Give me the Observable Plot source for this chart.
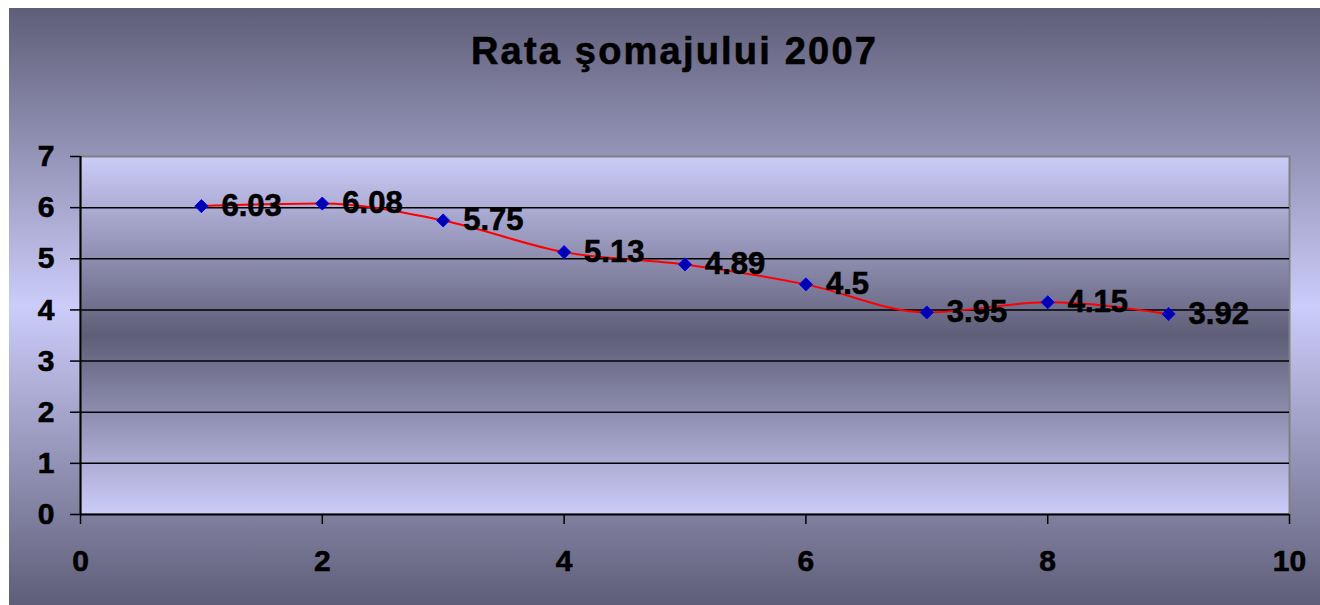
<!DOCTYPE html>
<html>
<head>
<meta charset="utf-8">
<script src="https://cdn.jsdelivr.net/npm/d3@7"></script>
<script src="https://cdn.jsdelivr.net/npm/@observablehq/plot@0.6"></script>
<style>
  html, body { margin: 0; padding: 0; background: #ffffff; }
  #wrap {
    position: absolute; left: 9px; top: 8px; width: 1311px; height: 597px;
    background: linear-gradient(to bottom, #5f5e78 0%, #ccccfa 50%, #5f5e78 100%);
    overflow: hidden;
  }
  #title {
    position: absolute; left: 0; top: 24px; width: 100%;
    text-align: center; font-family: "Liberation Sans", Arial, sans-serif;
    font-weight: bold; font-size: 38px; line-height: 38px; color: #000;
    letter-spacing: 2.2px;
    -webkit-text-stroke: 0.6px #000;
    transform: translateX(10px);
    white-space: nowrap;
  }
  #chart { position: absolute; left: 0; top: 100px; }
  #chart svg text { stroke: #000; stroke-width: 0.6px; }
</style>
</head>
<body>
<div id="wrap">
  <div id="title"></div>
  <div id="chart"></div>
</div>
<script>
const titleText = "Rata şomajului 2007";
const months = [1, 2, 3, 4, 5, 6, 7, 8, 9];
const rates = [6.03, 6.08, 5.75, 5.13, 4.89, 4.5, 3.95, 4.15, 3.92];
const xTicks = [0, 2, 4, 6, 8, 10];
const yTicks = [0, 1, 2, 3, 4, 5, 6, 7];

const data = months.map((m, i) => ({x: m, y: rates[i]}));

document.getElementById("title").textContent = titleText;

const svg = Plot.plot({
  width: 1311,
  height: 497,
  marginTop: 48,
  marginBottom: 91,
  marginLeft: 71,
  marginRight: 31,
  style: {
    background: "transparent",
    fontFamily: "'Liberation Sans', Arial, sans-serif",
    fontWeight: "bold",
    fontSize: "30px",
    color: "black",
    overflow: "visible"
  },
  x: {domain: [0, 10], ticks: xTicks},
  y: {domain: [0, 7], ticks: yTicks},
  marks: [
    Plot.frame({fill: "url(#plotGrad)", stroke: "#808080", strokeWidth: 2}),
    Plot.ruleY(yTicks.filter(t => t > 0 && t < 7), {stroke: "black", strokeWidth: 1.5}),
    Plot.axisY({ticks: yTicks, tickFormat: d => String(d), tickSize: 10, tickPadding: 16, label: null, fontSize: 30, strokeWidth: 1.5}),
    Plot.axisX({ticks: xTicks, tickFormat: d => String(d), tickSize: 10, tickPadding: 25, label: null, fontSize: 30, strokeWidth: 1.5}),
    Plot.ruleY([0], {stroke: "black", strokeWidth: 2}),
    Plot.ruleX([0], {stroke: "black", strokeWidth: 2}),
    Plot.line(data, {x: "x", y: "y", stroke: "#ff0000", strokeWidth: 2, curve: "monotone-x"}),
    Plot.dot(data, {x: "x", y: "y", symbol: "diamond2", r: 5.9, fill: "#0000b0", stroke: "#0000ff", strokeWidth: 1}),
    Plot.text(data, {x: "x", y: "y", text: d => String(d.y), textAnchor: "start", dx: 20, fontSize: 31, fontWeight: "bold", fill: "black"})
  ]
});

const ns = "http://www.w3.org/2000/svg";
const defs = document.createElementNS(ns, "defs");
defs.innerHTML = '<linearGradient id="plotGrad" x1="0" y1="0" x2="0" y2="1">' +
  '<stop offset="0" stop-color="#ccccfa"/>' +
  '<stop offset="0.5" stop-color="#5f5e78"/>' +
  '<stop offset="1" stop-color="#ccccfa"/>' +
  '</linearGradient>';
svg.insertBefore(defs, svg.firstChild);

document.getElementById("chart").appendChild(svg);
</script>
</body>
</html>
